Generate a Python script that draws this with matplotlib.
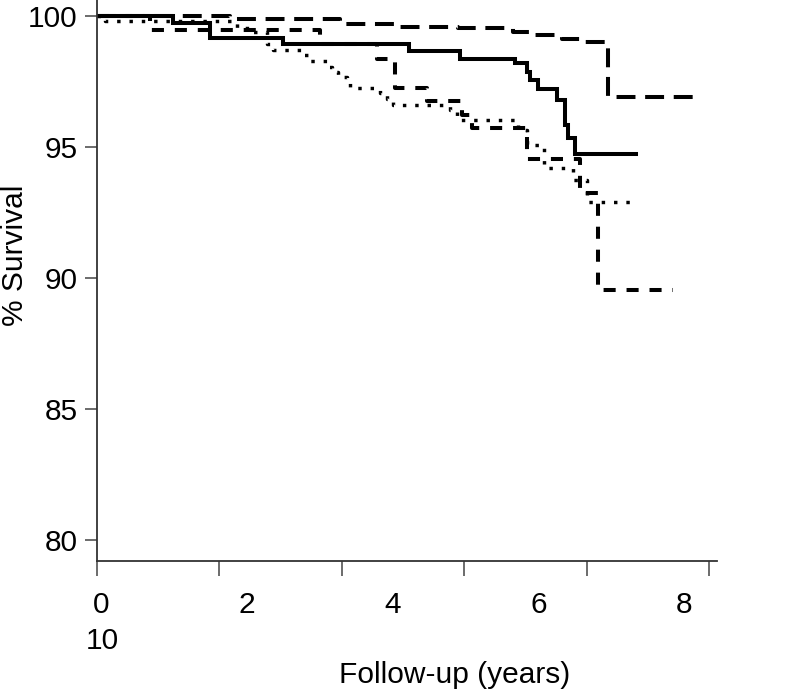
# -*- coding: utf-8 -*-
"""
Kaplan-Meier style survival curves (% survival vs follow-up in years).
Four groups, drawn as step curves with different line styles.
"""

import matplotlib
matplotlib.use('Agg')
import matplotlib.pyplot as plt

plt.rcParams['font.family'] = ['Liberation Sans', 'DejaVu Sans']

#=============================================
#   DATA
#=============================================

# solid curve
solid_t = [0, 1.24, 1.84, 3.04, 5.10, 5.93, 6.82, 7.02, 7.07, 7.20, 7.51, 7.64, 7.69, 7.80, 8.80]
solid_s = [100, 99.73, 99.16, 98.93, 98.67, 98.38, 98.20, 97.88, 97.56, 97.21, 96.80, 95.84, 95.34, 94.74, 94.74]

# long dashes
long_t = [0, 2.17, 3.97, 4.90, 5.90, 6.80, 7.10, 7.60, 7.90, 8.34, 9.80]
long_s = [100, 99.89, 99.71, 99.60, 99.55, 99.40, 99.30, 99.12, 99.00, 96.93, 96.93]

# short dashes
short_t = [0, 0.87, 3.64, 4.57, 4.87, 5.39, 5.96, 6.12, 7.02, 7.89, 8.18, 9.40]
short_s = [100, 99.48, 98.93, 98.37, 97.26, 96.76, 96.22, 95.72, 94.54, 93.24, 89.57, 89.57]

# dotted
dot_t = [0, 0.13, 2.29, 2.50, 2.78, 2.87, 3.35, 3.44, 3.76, 3.84, 3.93, 4.08, 4.13,
         4.62, 4.73, 4.83, 5.76, 5.88, 6.87, 7.02, 7.30, 7.77, 8.00, 8.75]
dot_s = [100, 99.80, 99.55, 99.40, 98.94, 98.71, 98.52, 98.29, 98.06, 97.87, 97.68, 97.56, 97.26,
         97.07, 96.84, 96.61, 96.42, 96.04, 95.65, 95.08, 94.20, 93.74, 92.90, 92.90]

y_ticks = [80, 85, 90, 95, 100]
x_ticks = [0, 2, 4, 6, 8, 10]
x_labels = ['0', '2', '4', '6', '8']   # '10' wrapped onto a second line in the original

#=============================================
#   PLOT
#=============================================

fs = 21.5

fig = plt.figure(figsize=(8.1, 6.93), dpi=100)
ax = fig.add_axes([0.1198, 0.19, 0.765, 0.81])

lw = 2.9
ax.step(solid_t, solid_s, where='post', color='black', lw=lw, solid_joinstyle='miter')
ax.step(long_t, long_s, where='post', color='black', lw=lw, dashes=(4.7, 2.4))
ax.step(short_t, short_s, where='post', color='black', lw=lw, dashes=(3.0, 2.7))
ax.step(dot_t, dot_s, where='post', color='black', lw=lw * 0.85, dashes=(1.0, 2.6))

ax.set_xlim(0, 10.12)
ax.set_ylim(79.2, 100.62)

for side in ('top', 'right'):
    ax.spines[side].set_visible(False)
for side in ('left', 'bottom'):
    ax.spines[side].set_color('#333333')
    ax.spines[side].set_linewidth(1.3)

ax.set_yticks(y_ticks)
ax.tick_params(axis='y', direction='out', length=9, width=1.1, color='#444444',
               labelsize=fs, pad=5)
ax.set_xticks(x_ticks)
ax.set_xticklabels([])
ax.tick_params(axis='x', direction='out', length=11, width=1.1, color='#444444')

# tick labels of the original sit off the ticks; reproduce them as text
xform = ax.get_xaxis_transform()
for lab in x_labels:
    ax.text(int(lab) * 1.19 + 0.07, -0.078, lab, transform=xform, ha='center',
            va='center', fontsize=fs)
ax.text(0.08, -0.142, '10', transform=xform, ha='center', va='center', fontsize=fs)

fig.text(455 / 810, 1 - 675 / 693, 'Follow-up (years)', ha='center', va='center', fontsize=fs)
fig.text(15 / 810, 1 - 255 / 693, '% Survival', rotation=90, ha='center', va='center',
         fontsize=fs)

fig.savefig('out.png', dpi=100)
